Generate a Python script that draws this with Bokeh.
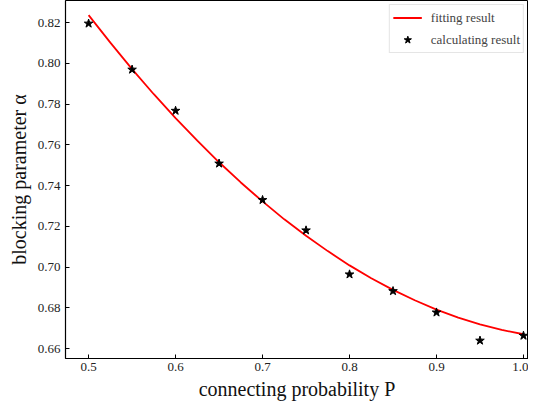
from bokeh.plotting import figure
from bokeh.models import Range1d, FixedTicker, PrintfTickFormatter, Legend, LegendItem
from bokeh.embed import file_html
from bokeh.resources import INLINE

# data
p_vals = [0.5, 0.55, 0.6, 0.65, 0.7, 0.75, 0.8, 0.85, 0.9, 0.95, 1.0]
alpha_calc = [0.8195, 0.7969, 0.7767, 0.7508, 0.7329, 0.7180, 0.6964, 0.6882, 0.6777, 0.6639, 0.6663]

fit_x = [0.5, 0.525, 0.55, 0.575, 0.6, 0.625, 0.65, 0.675, 0.7, 0.725, 0.75,
         0.775, 0.8, 0.825, 0.85, 0.875, 0.9, 0.925, 0.95, 0.975, 1.0]
fit_y = [0.8236, 0.8101, 0.7971, 0.7848, 0.7731, 0.7620, 0.7514, 0.7415, 0.7322, 0.7234, 0.7153,
         0.7078, 0.7008, 0.6945, 0.6888, 0.6837, 0.6791, 0.6752, 0.6719, 0.6691, 0.6670]

x_ticks = [0.5, 0.6, 0.7, 0.8, 0.9, 1.0]
y_ticks = [0.66, 0.68, 0.70, 0.72, 0.74, 0.76, 0.78, 0.80, 0.82]

x_title = "connecting probability P"
y_title = "blocking parameter α"
legend_labels = ["fitting result", "calculating result"]

p = figure(width=528, height=402,
           x_range=Range1d(0.47344, 1.00577), y_range=Range1d(0.6551, 0.8308),
           output_backend="svg", toolbar_location=None,
           min_border_left=65, min_border_right=0, min_border_top=0, min_border_bottom=44)

p.xgrid.visible = False
p.ygrid.visible = False
p.outline_line_color = "black"
p.outline_line_width = 1
p.background_fill_color = "white"
p.border_fill_color = "white"

for ax, ticks, fmt in ((p.xaxis, x_ticks, "%.1f"), (p.yaxis, y_ticks, "%.2f")):
    ax.ticker = FixedTicker(ticks=ticks)
    ax.formatter = PrintfTickFormatter(format=fmt)
    ax.major_label_text_font = "Liberation Serif"
    ax.major_label_text_font_size = "13px"
    ax.major_label_text_color = "#222222"
    ax.major_tick_in = 4
    ax.major_tick_out = 0
    ax.minor_tick_in = 0
    ax.minor_tick_out = 0
    ax.axis_line_color = "black"
    ax.axis_line_width = 1.2
    ax.major_tick_line_color = "black"
    ax.axis_label_text_font = "Liberation Serif"
    ax.axis_label_text_font_size = "20px"
    ax.axis_label_text_font_style = "normal"
    ax.axis_label_text_color = "#111111"

p.xaxis.axis_label = x_title
p.yaxis.axis_label = y_title
p.xaxis.major_label_standoff = 4
p.yaxis.major_label_standoff = 5
p.xaxis.axis_label_standoff = 4
p.yaxis.axis_label_standoff = 5

r_fit = p.line(fit_x, fit_y, line_color="red", line_width=1.8)
r_pts = p.scatter(p_vals, alpha_calc, marker="star", size=9,
                  fill_color="black", line_color="black")

legend = Legend(items=[LegendItem(label=legend_labels[0], renderers=[r_fit]),
                       LegendItem(label=legend_labels[1], renderers=[r_pts])],
                location="top_right", margin=4, padding=3, spacing=3,
                glyph_width=29, glyph_height=19, label_height=19, label_standoff=9,
                label_text_font="Liberation Serif", label_text_font_size="13px",
                border_line_color="#cccccc", border_line_width=1,
                background_fill_color="white", background_fill_alpha=1.0)
p.add_layout(legend)

open("out.html", "w").write(file_html(p, INLINE))
